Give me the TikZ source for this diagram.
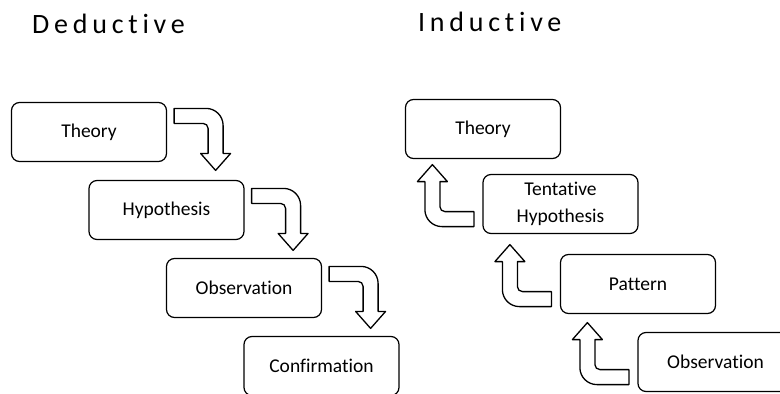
\documentclass[tikz,border=0pt]{standalone}
\usepackage{fontspec}
\setmainfont{Carlito}[Ligatures=NoCommon]
\usetikzlibrary{calc}

\tikzstyle{stage} = [
    rectangle,
    rounded corners=8pt,
    minimum width=155pt,
    minimum height=59pt,
    line width=1.2pt,
    inner sep=0pt,
    align=center,
    font=\fontsize{19.5}{27}\selectfont,
    draw=black
]
\tikzstyle{heading} = [
    anchor=west,
    inner sep=0pt,
    font=\fontsize{28}{30}\selectfont\addfontfeature{LetterSpace=17}
]
\tikzset{
    bentarrow/.pic={
        \draw[line width=1.3pt, line join=round, fill=white]
            (0,7.5) -- (32,7.5) arc[start angle=90, end angle=0, radius=17]
            -- (49,-37.5) -- (56.5,-37.5) -- (41.5,-54.5) -- (26.5,-37.5)
            -- (34,-37.5) -- (34,-12.5) arc[start angle=0, end angle=90, radius=5]
            -- (0,-7.5) -- cycle;
    }
}

\begin{document}
\begin{tikzpicture}[x=1pt, y=1pt, node distance=78pt]

\useasboundingbox (0,0) rectangle (780,-394);

\node (dtitle) [heading] at (32,-24) {Deductive};
\node (ititle) [heading] at (418,-22) {Inductive};

% deductive
\node (dtheory) [stage] at (89,-132) {Theory};
\node (dhyp) [stage, below of=dtheory, xshift=77.5pt] {Hypothesis};
\node (dobs) [stage, below of=dhyp, xshift=77.5pt] {Observation};
\node (dconf) [stage, below of=dobs, xshift=77.5pt] {Confirmation};

\path ($(dtheory.north east)+(7,-14)$) pic {bentarrow};
\path ($(dhyp.north east)+(7,-16)$) pic {bentarrow};
\path ($(dobs.north east)+(7,-16)$) pic {bentarrow};

% inductive
\node (itheory) [stage] at (483,-129) {Theory};
\node (itent) [stage, below of=itheory, xshift=77.5pt, yshift=3pt] {Tentative\\Hypothesis};
\node (ipat) [stage, below of=itent, xshift=77.5pt, yshift=-2pt] {Pattern};
\node (iobs) [stage, below of=ipat, xshift=77.5pt] {Observation};

\path ($(itent.south west)+(-8.5,15)$) pic[rotate=180] {bentarrow};
\path ($(ipat.south west)+(-8.5,15)$) pic[rotate=180] {bentarrow};
\path ($(iobs.south west)+(-8.5,15)$) pic[rotate=180] {bentarrow};

\end{tikzpicture}
\end{document}
